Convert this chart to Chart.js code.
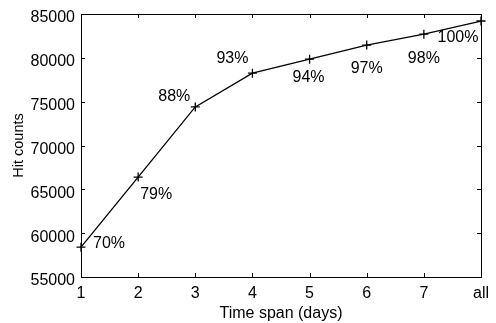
<!DOCTYPE html>
<html>
<head>
<meta charset="utf-8">
<script src="https://cdn.jsdelivr.net/npm/chart.js@4"></script>
<style>
  html, body { margin: 0; padding: 0; background: #fff; }
  #wrap { width: 496px; height: 323px; }
</style>
</head>
<body>
<div id="wrap"><canvas id="hitChart" width="496" height="323"></canvas></div>
<script>
const days = ['1', '2', '3', '4', '5', '6', '7', 'all'];
const hitCounts = [58400, 66400, 74400, 78250, 79850, 81450, 82700, 84200];
const coverage = ['70%', '79%', '88%', '93%', '94%', '97%', '98%', '100%'];
const yTicks = [55000, 60000, 65000, 70000, 75000, 80000, 85000];

// where each percentage sits relative to its point (px)
const labelOffsets = [[28, -4], [18, 18], [-21, -10], [-20, -15], [-1, 18], [0, 23], [0, 24], [-23, 17]];

const FONT = '"Liberation Sans", Arial, sans-serif';

// box around plot with ticks pointing inward, like the old matlab look
const boxPlugin = {
    id: 'box',
    afterDraw(chart) {
        const ctx = chart.ctx;
        const a = chart.chartArea;
        const xs = chart.scales.x;
        const ys = chart.scales.y;
        const len = 4;
        ctx.save();
        ctx.strokeStyle = '#000';
        ctx.lineWidth = 1;
        ctx.strokeRect(a.left + 0.5, a.top + 0.5, a.right - a.left, a.bottom - a.top);
        ctx.beginPath();
        days.forEach((d, i) => {
            const x = Math.round(xs.getPixelForValue(i)) + 0.5;
            ctx.moveTo(x, a.bottom); ctx.lineTo(x, a.bottom - len);
            ctx.moveTo(x, a.top); ctx.lineTo(x, a.top + len);
        });
        yTicks.forEach(v => {
            const y = Math.round(ys.getPixelForValue(v)) + 0.5;
            ctx.moveTo(a.left, y); ctx.lineTo(a.left + len, y);
            ctx.moveTo(a.right, y); ctx.lineTo(a.right - len, y);
        });
        ctx.stroke();
        ctx.restore();
    }
};

const pctLabels = {
    id: 'pctLabels',
    afterDatasetsDraw(chart) {
        const ctx = chart.ctx;
        const meta = chart.getDatasetMeta(0);
        ctx.save();
        ctx.fillStyle = '#000';
        ctx.font = '16px ' + FONT;
        ctx.textAlign = 'center';
        ctx.textBaseline = 'middle';
        meta.data.forEach((pt, i) => {
            const off = labelOffsets[i];
            ctx.fillText(coverage[i], pt.x + off[0], pt.y + off[1]);
        });
        ctx.restore();
    }
};

const ctx = document.getElementById('hitChart').getContext('2d');
new Chart(ctx, {
    type: 'line',
    data: {
        labels: days,
        datasets: [{
            label: 'Hit counts',
            data: hitCounts,
            borderColor: '#000',
            borderWidth: 1.3,
            tension: 0,
            fill: false,
            pointStyle: 'cross',
            pointRadius: 4.5,
            pointBorderWidth: 1.3,
            pointBorderColor: '#000'
        }]
    },
    options: {
        responsive: false,
        animation: false,
        layout: { padding: { top: 14, right: 10, left: 0, bottom: 0 } },
        plugins: {
            legend: { display: false },
            tooltip: { enabled: false }
        },
        scales: {
            x: {
                offset: false,
                grid: { display: false, drawTicks: false },
                border: { display: false },
                ticks: {
                    color: '#000',
                    padding: 7,
                    maxRotation: 0,
                    font: { family: FONT, size: 16 }
                },
                title: {
                    display: true,
                    text: 'Time span (days)',
                    color: '#000',
                    padding: { top: 0, bottom: 0 },
                    font: { family: FONT, size: 16 }
                },
                afterFit(scale) { scale.height = 46; }
            },
            y: {
                min: 55000,
                max: 85000,
                grid: { display: false, drawTicks: false },
                border: { display: false },
                ticks: {
                    stepSize: 5000,
                    color: '#000',
                    padding: 6,
                    labelOffset: 4,
                    font: { family: FONT, size: 16 },
                    callback: v => String(v)
                },
                title: {
                    display: true,
                    text: 'Hit counts',
                    color: '#000',
                    padding: { top: 10, bottom: 0 },
                    font: { family: FONT, size: 14.5 }
                },
                afterFit(scale) {
                    scale.width = 81;
                    scale.paddingTop = 0;
                    scale.paddingBottom = 0;
                }
            }
        }
    },
    plugins: [boxPlugin, pctLabels]
});
</script>
</body>
</html>
